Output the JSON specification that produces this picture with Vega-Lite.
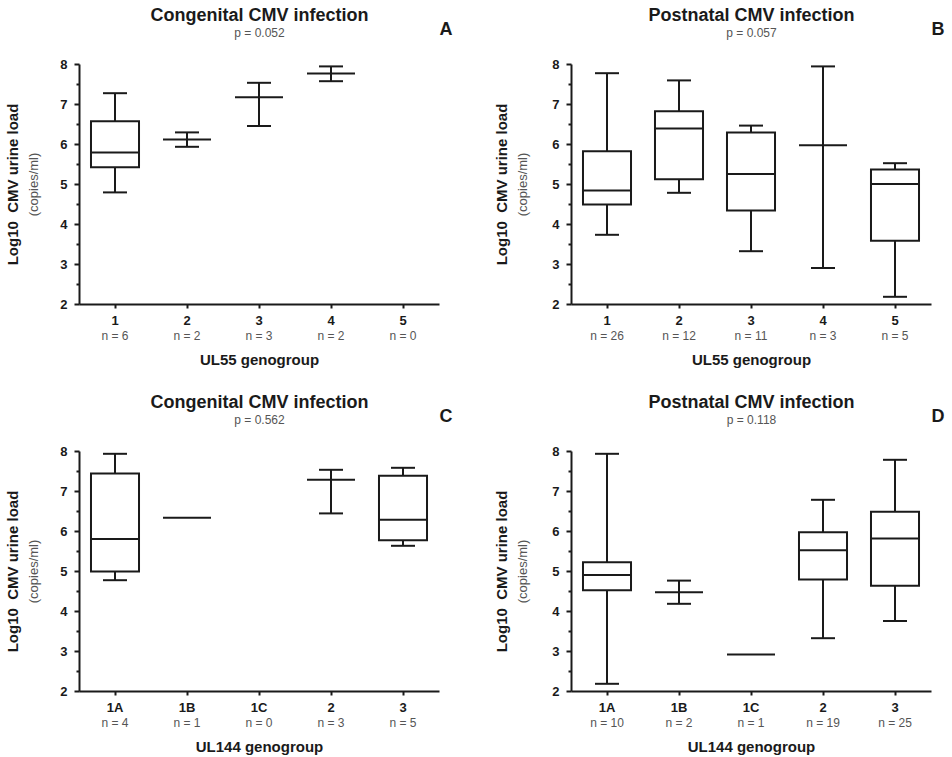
{
  "$schema": "https://vega.github.io/schema/vega-lite/v6.json",
  "padding": {"left": 5, "top": 6, "right": 5, "bottom": 5},
  "data": {"values": [
    {"panel": "A", "group": "1", "min": 4.79, "q1": 5.42, "median": 5.79, "q3": 6.57, "max": 7.27},
    {"panel": "A", "group": "2", "min": 5.93, "q1": null, "median": 6.11, "q3": null, "max": 6.29},
    {"panel": "A", "group": "3", "min": 6.45, "q1": null, "median": 7.17, "q3": null, "max": 7.53},
    {"panel": "A", "group": "4", "min": 7.57, "q1": null, "median": 7.76, "q3": null, "max": 7.94},
    {"panel": "B", "group": "1", "min": 3.73, "q1": 4.49, "median": 4.84, "q3": 5.82, "max": 7.77},
    {"panel": "B", "group": "2", "min": 4.78, "q1": 5.12, "median": 6.39, "q3": 6.82, "max": 7.59},
    {"panel": "B", "group": "3", "min": 3.32, "q1": 4.34, "median": 5.25, "q3": 6.29, "max": 6.46},
    {"panel": "B", "group": "4", "min": 2.9, "q1": null, "median": 5.97, "q3": null, "max": 7.94},
    {"panel": "B", "group": "5", "min": 2.18, "q1": 3.58, "median": 5.0, "q3": 5.36, "max": 5.52},
    {"panel": "C", "group": "1A", "min": 4.77, "q1": 4.99, "median": 5.8, "q3": 7.44, "max": 7.93},
    {"panel": "C", "group": "1B", "min": null, "q1": null, "median": 6.33, "q3": null, "max": null},
    {"panel": "C", "group": "2", "min": 6.44, "q1": null, "median": 7.28, "q3": null, "max": 7.53},
    {"panel": "C", "group": "3", "min": 5.63, "q1": 5.77, "median": 6.28, "q3": 7.38, "max": 7.58},
    {"panel": "D", "group": "1A", "min": 2.18, "q1": 4.52, "median": 4.9, "q3": 5.22, "max": 7.93},
    {"panel": "D", "group": "1B", "min": 4.18, "q1": null, "median": 4.47, "q3": null, "max": 4.76},
    {"panel": "D", "group": "1C", "min": null, "q1": null, "median": 2.91, "q3": null, "max": null},
    {"panel": "D", "group": "2", "min": 3.32, "q1": 4.79, "median": 5.52, "q3": 5.97, "max": 6.78},
    {"panel": "D", "group": "3", "min": 3.75, "q1": 4.63, "median": 5.81, "q3": 6.48, "max": 7.78}
  ]},
  "columns": 2,
  "spacing": {"row": 147, "column": 132},
  "bounds": "flush",
  "concat": [
    {
      "width": 360, "height": 240,
      "transform": [{"filter": "datum.panel === 'A'"}],
      "resolve": {"axis": {"x": "independent", "y": "independent"}},
      "layer": [
        {"mark": {"type": "rule", "strokeWidth": 2, "color": "#1a1a1a"},
         "encoding": {
           "x": {"field": "group", "type": "ordinal", "scale": {"type": "band", "domain": ["1", "2", "3", "4", "5"], "paddingInner": 0, "paddingOuter": 0},
                 "axis": {"orient": "bottom", "title": "UL55 genogroup", "titleFontSize": 15, "titleFontWeight": "bold", "titlePadding": 25, "labelFontSize": 13, "labelFontWeight": "bold", "labelAngle": 0, "labelPadding": 6, "tickSize": 4, "tickWidth": 2, "domainWidth": 2}},
           "y": {"field": "min", "type": "quantitative", "scale": {"domain": [2, 8], "nice": false, "zero": false},
                 "axis": {"orient": "left", "values": [2, 3, 4, 5, 6, 7, 8], "title": "(copies/ml)", "titleFontSize": 13, "titleFontWeight": "normal", "titleColor": "#555555", "titlePadding": 19, "labelFontSize": 13, "labelFontWeight": "bold", "labelPadding": 7, "tickSize": 5, "tickWidth": 2, "domainWidth": 2}},
           "y2": {"field": "max"}}},
        {"mark": {"type": "bar", "fill": "white", "stroke": "#1a1a1a", "strokeWidth": 2, "width": {"band": 0.667}},
         "encoding": {
           "x": {"field": "group", "type": "ordinal", "scale": {"type": "band"},
                 "axis": {"orient": "bottom", "title": null, "domain": false, "ticks": false, "tickSize": 0, "labelPadding": 26, "labelFontSize": 12, "labelColor": "#555555", "labelAngle": 0,
                          "labelExpr": "['n = 6','n = 2','n = 3','n = 2','n = 0'][indexof(['1','2','3','4','5'], datum.value)]"}},
           "y": {"field": "q1", "type": "quantitative",
                 "axis": {"orient": "left", "values": [2.5, 3.5, 4.5, 5.5, 6.5, 7.5], "labels": false, "domain": false, "title": null, "tickSize": 3, "tickWidth": 2}},
           "y2": {"field": "q3"}}},
        {"mark": {"type": "tick", "size": 48, "thickness": 2, "color": "#1a1a1a", "opacity": 1},
         "encoding": {
           "x": {"field": "group", "type": "ordinal", "scale": {"type": "band"},
                 "axis": {"orient": "top", "labels": false, "ticks": false, "domain": false, "title": "Congenital CMV infection", "titleFontSize": 18, "titleFontWeight": "bold", "titleBaseline": "alphabetic", "titlePadding": 43.5}},
           "y": {"field": "median", "type": "quantitative",
                 "axis": {"orient": "left", "labels": false, "ticks": false, "domain": false, "minExtent": 0, "title": "Log10\u00a0 CMV urine load", "titleFontSize": 15, "titleFontWeight": "bold", "titlePadding": 59}}}},
        {"mark": {"type": "tick", "size": 24, "thickness": 2, "color": "#1a1a1a", "opacity": 1},
         "encoding": {
           "x": {"field": "group", "type": "ordinal", "scale": {"type": "band"},
                 "axis": {"orient": "top", "labels": false, "ticks": false, "domain": false, "title": "p = 0.052", "titleFontSize": 12, "titleFontWeight": "normal", "titleColor": "#555555", "titleBaseline": "alphabetic", "titlePadding": 27.5}},
           "y": {"field": "max", "type": "quantitative", "axis": null}}},
        {"mark": {"type": "tick", "size": 24, "thickness": 2, "color": "#1a1a1a", "opacity": 1},
         "encoding": {
           "x": {"field": "group", "type": "ordinal", "scale": {"type": "band"},
                 "axis": {"orient": "top", "labels": false, "ticks": false, "domain": false, "title": "A", "titleFontSize": 18, "titleFontWeight": "bold", "titleAnchor": "end", "titleAlign": "left", "titleBaseline": "alphabetic", "titlePadding": 30}},
           "y": {"field": "min", "type": "quantitative", "axis": null}}}
      ]
    },
    {
      "width": 360, "height": 240,
      "transform": [{"filter": "datum.panel === 'B'"}],
      "resolve": {"axis": {"x": "independent", "y": "independent"}},
      "layer": [
        {"mark": {"type": "rule", "strokeWidth": 2, "color": "#1a1a1a"},
         "encoding": {
           "x": {"field": "group", "type": "ordinal", "scale": {"type": "band", "domain": ["1", "2", "3", "4", "5"], "paddingInner": 0, "paddingOuter": 0},
                 "axis": {"orient": "bottom", "title": "UL55 genogroup", "titleFontSize": 15, "titleFontWeight": "bold", "titlePadding": 25, "labelFontSize": 13, "labelFontWeight": "bold", "labelAngle": 0, "labelPadding": 6, "tickSize": 4, "tickWidth": 2, "domainWidth": 2}},
           "y": {"field": "min", "type": "quantitative", "scale": {"domain": [2, 8], "nice": false, "zero": false},
                 "axis": {"orient": "left", "values": [2, 3, 4, 5, 6, 7, 8], "title": "(copies/ml)", "titleFontSize": 13, "titleFontWeight": "normal", "titleColor": "#555555", "titlePadding": 22, "labelFontSize": 13, "labelFontWeight": "bold", "labelPadding": 7, "tickSize": 5, "tickWidth": 2, "domainWidth": 2}},
           "y2": {"field": "max"}}},
        {"mark": {"type": "bar", "fill": "white", "stroke": "#1a1a1a", "strokeWidth": 2, "width": {"band": 0.667}},
         "encoding": {
           "x": {"field": "group", "type": "ordinal", "scale": {"type": "band"},
                 "axis": {"orient": "bottom", "title": null, "domain": false, "ticks": false, "tickSize": 0, "labelPadding": 26, "labelFontSize": 12, "labelColor": "#555555", "labelAngle": 0,
                          "labelExpr": "['n = 26','n = 12','n = 11','n = 3','n = 5'][indexof(['1','2','3','4','5'], datum.value)]"}},
           "y": {"field": "q1", "type": "quantitative",
                 "axis": {"orient": "left", "values": [2.5, 3.5, 4.5, 5.5, 6.5, 7.5], "labels": false, "domain": false, "title": null, "tickSize": 3, "tickWidth": 2}},
           "y2": {"field": "q3"}}},
        {"mark": {"type": "tick", "size": 48, "thickness": 2, "color": "#1a1a1a", "opacity": 1},
         "encoding": {
           "x": {"field": "group", "type": "ordinal", "scale": {"type": "band"},
                 "axis": {"orient": "top", "labels": false, "ticks": false, "domain": false, "title": "Postnatal CMV infection", "titleFontSize": 18, "titleFontWeight": "bold", "titleBaseline": "alphabetic", "titlePadding": 43.5}},
           "y": {"field": "median", "type": "quantitative",
                 "axis": {"orient": "left", "labels": false, "ticks": false, "domain": false, "minExtent": 0, "title": "Log10\u00a0 CMV urine load", "titleFontSize": 15, "titleFontWeight": "bold", "titlePadding": 62}}}},
        {"mark": {"type": "tick", "size": 24, "thickness": 2, "color": "#1a1a1a", "opacity": 1},
         "encoding": {
           "x": {"field": "group", "type": "ordinal", "scale": {"type": "band"},
                 "axis": {"orient": "top", "labels": false, "ticks": false, "domain": false, "title": "p = 0.057", "titleFontSize": 12, "titleFontWeight": "normal", "titleColor": "#555555", "titleBaseline": "alphabetic", "titlePadding": 27.5}},
           "y": {"field": "max", "type": "quantitative", "axis": null}}},
        {"mark": {"type": "tick", "size": 24, "thickness": 2, "color": "#1a1a1a", "opacity": 1},
         "encoding": {
           "x": {"field": "group", "type": "ordinal", "scale": {"type": "band"},
                 "axis": {"orient": "top", "labels": false, "ticks": false, "domain": false, "title": "B", "titleFontSize": 18, "titleFontWeight": "bold", "titleAnchor": "end", "titleAlign": "left", "titleBaseline": "alphabetic", "titlePadding": 30}},
           "y": {"field": "min", "type": "quantitative", "axis": null}}}
      ]
    },
    {
      "width": 360, "height": 240,
      "transform": [{"filter": "datum.panel === 'C'"}],
      "resolve": {"axis": {"x": "independent", "y": "independent"}},
      "layer": [
        {"mark": {"type": "rule", "strokeWidth": 2, "color": "#1a1a1a"},
         "encoding": {
           "x": {"field": "group", "type": "ordinal", "scale": {"type": "band", "domain": ["1A", "1B", "1C", "2", "3"], "paddingInner": 0, "paddingOuter": 0},
                 "axis": {"orient": "bottom", "title": "UL144 genogroup", "titleFontSize": 15, "titleFontWeight": "bold", "titlePadding": 25, "labelFontSize": 13, "labelFontWeight": "bold", "labelAngle": 0, "labelPadding": 6, "tickSize": 4, "tickWidth": 2, "domainWidth": 2}},
           "y": {"field": "min", "type": "quantitative", "scale": {"domain": [2, 8], "nice": false, "zero": false},
                 "axis": {"orient": "left", "values": [2, 3, 4, 5, 6, 7, 8], "title": "(copies/ml)", "titleFontSize": 13, "titleFontWeight": "normal", "titleColor": "#555555", "titlePadding": 19, "labelFontSize": 13, "labelFontWeight": "bold", "labelPadding": 7, "tickSize": 5, "tickWidth": 2, "domainWidth": 2}},
           "y2": {"field": "max"}}},
        {"mark": {"type": "bar", "fill": "white", "stroke": "#1a1a1a", "strokeWidth": 2, "width": {"band": 0.667}},
         "encoding": {
           "x": {"field": "group", "type": "ordinal", "scale": {"type": "band"},
                 "axis": {"orient": "bottom", "title": null, "domain": false, "ticks": false, "tickSize": 0, "labelPadding": 26, "labelFontSize": 12, "labelColor": "#555555", "labelAngle": 0,
                          "labelExpr": "['n = 4','n = 1','n = 0','n = 3','n = 5'][indexof(['1A','1B','1C','2','3'], datum.value)]"}},
           "y": {"field": "q1", "type": "quantitative",
                 "axis": {"orient": "left", "values": [2.5, 3.5, 4.5, 5.5, 6.5, 7.5], "labels": false, "domain": false, "title": null, "tickSize": 3, "tickWidth": 2}},
           "y2": {"field": "q3"}}},
        {"mark": {"type": "tick", "size": 48, "thickness": 2, "color": "#1a1a1a", "opacity": 1},
         "encoding": {
           "x": {"field": "group", "type": "ordinal", "scale": {"type": "band"},
                 "axis": {"orient": "top", "labels": false, "ticks": false, "domain": false, "title": "Congenital CMV infection", "titleFontSize": 18, "titleFontWeight": "bold", "titleBaseline": "alphabetic", "titlePadding": 43.5}},
           "y": {"field": "median", "type": "quantitative",
                 "axis": {"orient": "left", "labels": false, "ticks": false, "domain": false, "minExtent": 0, "title": "Log10\u00a0 CMV urine load", "titleFontSize": 15, "titleFontWeight": "bold", "titlePadding": 59}}}},
        {"mark": {"type": "tick", "size": 24, "thickness": 2, "color": "#1a1a1a", "opacity": 1},
         "encoding": {
           "x": {"field": "group", "type": "ordinal", "scale": {"type": "band"},
                 "axis": {"orient": "top", "labels": false, "ticks": false, "domain": false, "title": "p = 0.562", "titleFontSize": 12, "titleFontWeight": "normal", "titleColor": "#555555", "titleBaseline": "alphabetic", "titlePadding": 27.5}},
           "y": {"field": "max", "type": "quantitative", "axis": null}}},
        {"mark": {"type": "tick", "size": 24, "thickness": 2, "color": "#1a1a1a", "opacity": 1},
         "encoding": {
           "x": {"field": "group", "type": "ordinal", "scale": {"type": "band"},
                 "axis": {"orient": "top", "labels": false, "ticks": false, "domain": false, "title": "C", "titleFontSize": 18, "titleFontWeight": "bold", "titleAnchor": "end", "titleAlign": "left", "titleBaseline": "alphabetic", "titlePadding": 30}},
           "y": {"field": "min", "type": "quantitative", "axis": null}}}
      ]
    },
    {
      "width": 360, "height": 240,
      "transform": [{"filter": "datum.panel === 'D'"}],
      "resolve": {"axis": {"x": "independent", "y": "independent"}},
      "layer": [
        {"mark": {"type": "rule", "strokeWidth": 2, "color": "#1a1a1a"},
         "encoding": {
           "x": {"field": "group", "type": "ordinal", "scale": {"type": "band", "domain": ["1A", "1B", "1C", "2", "3"], "paddingInner": 0, "paddingOuter": 0},
                 "axis": {"orient": "bottom", "title": "UL144 genogroup", "titleFontSize": 15, "titleFontWeight": "bold", "titlePadding": 25, "labelFontSize": 13, "labelFontWeight": "bold", "labelAngle": 0, "labelPadding": 6, "tickSize": 4, "tickWidth": 2, "domainWidth": 2}},
           "y": {"field": "min", "type": "quantitative", "scale": {"domain": [2, 8], "nice": false, "zero": false},
                 "axis": {"orient": "left", "values": [2, 3, 4, 5, 6, 7, 8], "title": "(copies/ml)", "titleFontSize": 13, "titleFontWeight": "normal", "titleColor": "#555555", "titlePadding": 22, "labelFontSize": 13, "labelFontWeight": "bold", "labelPadding": 7, "tickSize": 5, "tickWidth": 2, "domainWidth": 2}},
           "y2": {"field": "max"}}},
        {"mark": {"type": "bar", "fill": "white", "stroke": "#1a1a1a", "strokeWidth": 2, "width": {"band": 0.667}},
         "encoding": {
           "x": {"field": "group", "type": "ordinal", "scale": {"type": "band"},
                 "axis": {"orient": "bottom", "title": null, "domain": false, "ticks": false, "tickSize": 0, "labelPadding": 26, "labelFontSize": 12, "labelColor": "#555555", "labelAngle": 0,
                          "labelExpr": "['n = 10','n = 2','n = 1','n = 19','n = 25'][indexof(['1A','1B','1C','2','3'], datum.value)]"}},
           "y": {"field": "q1", "type": "quantitative",
                 "axis": {"orient": "left", "values": [2.5, 3.5, 4.5, 5.5, 6.5, 7.5], "labels": false, "domain": false, "title": null, "tickSize": 3, "tickWidth": 2}},
           "y2": {"field": "q3"}}},
        {"mark": {"type": "tick", "size": 48, "thickness": 2, "color": "#1a1a1a", "opacity": 1},
         "encoding": {
           "x": {"field": "group", "type": "ordinal", "scale": {"type": "band"},
                 "axis": {"orient": "top", "labels": false, "ticks": false, "domain": false, "title": "Postnatal CMV infection", "titleFontSize": 18, "titleFontWeight": "bold", "titleBaseline": "alphabetic", "titlePadding": 43.5}},
           "y": {"field": "median", "type": "quantitative",
                 "axis": {"orient": "left", "labels": false, "ticks": false, "domain": false, "minExtent": 0, "title": "Log10\u00a0 CMV urine load", "titleFontSize": 15, "titleFontWeight": "bold", "titlePadding": 62}}}},
        {"mark": {"type": "tick", "size": 24, "thickness": 2, "color": "#1a1a1a", "opacity": 1},
         "encoding": {
           "x": {"field": "group", "type": "ordinal", "scale": {"type": "band"},
                 "axis": {"orient": "top", "labels": false, "ticks": false, "domain": false, "title": "p = 0.118", "titleFontSize": 12, "titleFontWeight": "normal", "titleColor": "#555555", "titleBaseline": "alphabetic", "titlePadding": 27.5}},
           "y": {"field": "max", "type": "quantitative", "axis": null}}},
        {"mark": {"type": "tick", "size": 24, "thickness": 2, "color": "#1a1a1a", "opacity": 1},
         "encoding": {
           "x": {"field": "group", "type": "ordinal", "scale": {"type": "band"},
                 "axis": {"orient": "top", "labels": false, "ticks": false, "domain": false, "title": "D", "titleFontSize": 18, "titleFontWeight": "bold", "titleAnchor": "end", "titleAlign": "left", "titleBaseline": "alphabetic", "titlePadding": 30}},
           "y": {"field": "min", "type": "quantitative", "axis": null}}}
      ]
    }
  ],
  "config": {
    "font": "Liberation Sans",
    "view": {"stroke": null},
    "axis": {"grid": false, "domainColor": "#1a1a1a", "tickColor": "#1a1a1a", "labelColor": "#1a1a1a", "titleColor": "#1a1a1a", "labelFont": "Liberation Sans", "titleFont": "Liberation Sans"}
  }
}
